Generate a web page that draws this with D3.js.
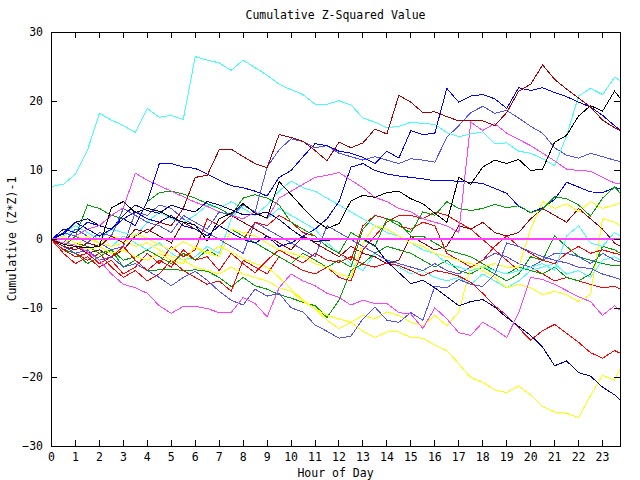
<!DOCTYPE html>
<html><head><meta charset="utf-8">
<script src="https://cdn.jsdelivr.net/npm/d3@7"></script>
<style>body{margin:0;background:#fff}svg{display:block}</style>
</head><body><svg id="c" width="640" height="480"></svg>
<script>
const hours = [0,0.5,1,1.5,2,2.5,3,3.5,4,4.5,5,5.5,6,6.5,7,7.5,8,8.5,9,9.5,10,10.5,11,11.5,12,12.5,13,13.5,14,14.5,15,15.5,16,16.5,17,17.5,18,18.5,19,19.5,20,20.5,21,21.5,22,22.5,23,23.5,23.75];
const xTickValues = [0,1,2,3,4,5,6,7,8,9,10,11,12,13,14,15,16,17,18,19,20,21,22,23];
const yTickValues = [-30,-20,-10,0,10,20,30];

const cyanTop = [7.7,8.0,9.5,12.9,18.3,17.3,16.5,15.5,19.0,17.7, 18.0,17.4,26.5,26.0,25.6,24.5,26.0,24.9,23.8,22.5, 21.7,21.0,19.6,19.6,20.1,19.5,17.6,17.0,16.2,16.4, 17.0,16.8,16.7,15.5,14.9,15.3,15.6,13.9,14.0,12.8, 12.5,11.7,10.7,15.0,20.8,21.9,21.0,23.5,23.0];
const darkRedTop = [0,-1,-1.5,-0.5,-1,0.5,-0.5,1.5,1,2.5, 2,4.5,9.0,9.3,13.0,13.1,12.0,11.0,10.4,15.2, 14.8,14.2,12.9,11.4,14.1,13.3,14.0,16.0,15.3,20.9, 19.9,18.4,18.5,17.8,17.2,17.2,17.2,16.5,18.4,21.5, 22.5,25.3,23.2,21.8,20.5,19.2,17.3,16.2,15.8];
const blueTop = [0,1.0,2.5,1.5,0.5,1.5,3.0,2.0,5.5,11.0, 11.0,10.5,10.3,9.5,8.6,7.8,7.5,7.0,6.3,9.0, 10.0,12.0,13.9,13.6,12.8,12.5,11.9,11.0,12.8,11.8, 15.8,15.2,15.4,21.9,19.9,20.8,21.0,20.4,19.0,22.0, 21.6,22.0,21.3,20.7,19.9,19.2,18.0,16.5,15.8];
const blackLine = [0,-0.7,-1.0,-1.2,-1.0,4.6,5.5,3.9,4.5,4.1, 3.2,2.5,2.1,-0.2,3.0,3.8,5.2,3.8,3.1,8.4, 6.5,4.6,2.8,1.6,2.3,5.6,6.4,6.1,6.8,7.0, 5.9,5.2,3.8,2.5,9.0,8.0,10.5,11.5,11.0,11.6, 10.0,10.2,14.1,15.1,17.9,19.4,18.6,21.5,20.4];
const magentaLow = [0,-0.5,-0.8,-1.8,-3.0,-5.0,-6.5,-7.0,-7.8,-9.6, -10.7,-9.7,-9.7,-10.0,-10.6,-10.6,-8.4,-9.3,-11.2,-7.0, -5.0,-6.0,-6.7,-7.8,-8.4,-9.5,-8.8,-9.3,-9.3,-10.6, -10.8,-12.9,-9.9,-11.5,-13.5,-13.9,-12.0,-13.0,-14.2,-10.6, -5.5,-5.8,-6.5,-7.4,-8.3,-9.0,-11.0,-9.6,-10.3];
const magentaHigh = [0,1.0,0.5,1.5,2.0,3.5,4.6,9.6,8.6,7.8, 7.0,6.2,5.4,4.8,4.0,3.5,3.0,4.0,3.0,6.0, 7.0,8.0,9.0,9.3,9.7,8.6,7.5,6.1,5.5,4.5, 4.0,3.0,2.5,2.0,1.0,17.0,15.8,16.8,15.4,14.5, 13.6,12.5,11.4,10.2,10.0,9.9,9.0,8.2,8.1];
const darkBlueLow = [0,0.8,2.5,3.0,2.0,1.5,3.5,5.0,4.2,3.8, 5.0,4.4,4.0,5.5,5.0,4.3,3.6,3.6,4.0,2.9, 1.5,0.3,-0.3,-0.1,0.0,0.0,0.1,-0.9,-3.2,-4.8, -6.4,-5.9,-7.0,-8.3,-9.6,-9.0,-8.7,-9.8,-11.3,-12.6, -13.9,-15.6,-18.3,-17.6,-19.3,-19.8,-21.4,-22.5,-23.3];
const redLow = [0,-1.5,-2.5,-2.0,-3.5,-2.5,-1.0,-3.0,-4.5,-3.0, -4.0,-1.5,-3.0,-2.5,-4.5,-2.0,-3.5,-4.8,-3.0,-1.5, -2.5,-3.4,-2.0,-3.0,-3.3,-2.5,-3.6,-4.0,-3.4,-3.8, -4.5,-5.3,-4.5,-4.8,-5.3,-6.2,-7.8,-9.6,-11.0,-12.8, -14.6,-13.2,-12.3,-13.6,-14.9,-16.4,-17.2,-16.1,-16.5];
const yellowLow = [0,-0.5,-1.0,0.5,-0.5,-1.0,-0.5,0.8,0.2,-0.8, -1.5,-0.3,-1.2,-2.0,-1.0,-1.8,-2.8,-3.5,-4.0,-5.5, -7.2,-8.8,-10.0,-11.7,-12.9,-12.0,-13.3,-14.2,-13.4,-13.4, -14.2,-14.3,-15.3,-16.1,-18.0,-20.0,-20.7,-21.8,-22.2,-21.2, -22.5,-24.2,-25.0,-25.2,-25.8,-22.6,-19.7,-20.4,-18.6];
const lightBlueLow = [0,-1.0,-2.0,-1.5,-3.0,-2.5,-4.0,-3.5,-4.5,-5.5, -6.7,-5.5,-4.6,-5.9,-7.5,-8.8,-9.5,-7.2,-8.2,-7.8, -9.9,-10.5,-12.4,-13.3,-14.3,-14.0,-11.5,-9.8,-11.7,-12.0, -10.6,-11.7,-6.8,-7.0,-5.8,-6.5,-6.8,-5.0,-0.5,-1.0, -1.8,-2.5,-3.0,-3.4,-4.0,-4.2,-5.0,-5.5,-5.8];
const greenA = [0,-1,0.5,5,4.5,3.5,3.0,2.0,5.5,6.8, 7.0,6.6,6.0,5.2,4.5,3.5,6.0,6.5,6.0,5.0, 2.5,1.5,0.5,-1.0,-2.0,1.0,0.0,-1.0,3.0,2.0, 1.0,4.0,3.5,5.5,4.5,4.2,4.5,5.1,4.6,4.9, 3.9,4.4,6.2,5.9,5.0,3.4,6.0,7.6,6.7];
const greenB = [0,-1.5,-2.0,-3.5,-2.5,-1.5,-4.0,-3.0,-4.5,-4.4, -4.3,-4.5,-4.4,-4.6,-5.5,-6.8,-5.5,-6.7,-7.2,-8.0, -8.5,-9.1,-9.6,-11.3,-8.8,-4.5,-3.5,-2.0,-1.0,-1.5, -2.0,-3.0,-4.0,-3.0,-4.5,-5.0,-4.0,-5.0,-6.0,-5.0, -2.5,-3.0,0.5,-1.0,-2.5,-3.0,-3.5,-3.8,-3.8];
const greenC = [0,0.5,-0.5,-1.0,-2.0,-1.5,-3.0,-2.5,-1.5,-2.5, -3.5,-2.0,-3.0,-1.5,-2.5,1.5,0.5,-0.5,-1.5,-2.5, -3.5,-2.0,-3.0,-4.0,-3.0,-4.0,1.5,3.5,3.0,2.5, 0.5,0.5,-0.5,-1.5,-2.0,-2.5,-3.5,-4.5,-5.0,-4.0, -4.5,-5.0,-4.0,-5.5,-6.0,-5.0,-1.0,-1.5,-2.0];
const blueMid = [0,1.5,1.0,2.5,2.0,1.5,3.0,4.0,3.0,2.5, 3.5,2.0,1.5,0.5,2.0,1.0,0.0,-0.5,0.5,-1.0, -0.5,0.5,1.5,3.0,5.5,10.5,11.0,10.0,9.5,9.2, 9.0,8.8,8.5,8.6,8.4,8.3,8.1,7.4,6.7,4.8, 3.9,4.6,5.8,8.3,7.6,6.9,6.8,7.5,7.4];
const redMid = [0,-2.0,-3.5,-2.5,-4.0,-3.0,-5.0,-4.0,-2.0,-3.5, -1.0,-2.5,-1.5,3.0,2.0,1.0,0.0,2.5,2.0,3.5, 2.5,1.0,0.5,-1.0,-2.0,-3.0,2.0,3.5,3.0,2.0, 1.5,2.5,2.0,-2.0,-3.0,-4.0,-3.0,-1.0,0.5,-1.0, -2.0,-3.0,-3.5,-2.0,-1.0,-2.0,-1.5,-2.0,-2.2];
const redC = [0,-1.0,-2.0,-3.0,-2.0,-4.0,-5.5,-4.5,-6.0,-5.0, -3.0,-4.5,-5.5,-6.5,-6.0,-7.5,-3.0,-4.0,-5.0,-2.5, -3.5,-4.5,-5.0,-4.0,-5.5,-6.0,-1.5,0.5,2.5,3.5, 3.5,3.0,4.0,3.5,2.5,1.5,0.0,-1.5,-3.0,-4.5, -4.0,-5.0,-6.0,-5.5,-6.0,-6.5,-7.0,-6.8,-7.2];
const darkRedMid = [0,-1.5,-1.0,-2.0,-1.5,-2.5,-1.5,0.5,1.5,0.5, -0.5,2.5,1.5,0.5,2.0,3.5,2.5,1.5,0.5,-0.5, -1.5,0.5,-0.5,-1.5,-2.5,-1.0,-2.0,-2.5,-3.5,-3.0, 0.5,-0.5,-1.5,-1.0,2.0,1.5,2.5,1.0,0.5,1.0, 3.0,4.5,3.5,2.5,4.5,3.0,1.5,-0.5,-1.0];
const cyanMid = [0,0.5,1.5,0.5,-0.5,-1.0,0.5,-0.5,-1.5,-0.5, -2.0,-3.0,-2.5,-1.0,-2.0,3.0,5.0,4.0,3.0,4.5, 3.5,2.5,1.5,-0.5,-2.0,-3.5,-4.5,-2.0,-3.0,-4.0, -5.0,-4.5,-5.5,-6.0,-5.5,-6.5,-5.0,-6.0,-7.0,-6.0, -4.5,-4.0,-3.5,-5.0,-4.5,-5.5,-3.0,-2.5,-3.0];
const cyanB = [0,1.0,2.0,1.0,0.0,1.5,1.0,0.5,2.5,4.0, 3.0,2.5,3.5,5.0,4.5,5.5,4.5,3.5,5.0,7.0, 8.5,7.5,7.0,6.0,5.0,4.0,3.0,2.0,1.0,0.5, -0.5,-1.5,-2.0,-3.5,-4.0,-4.5,-4.0,-4.5,-5.0,-4.5, -4.0,-3.5,-4.5,0.5,2.0,-0.5,-1.0,1.0,0.5];
const yellowHigh = [0,0.5,-0.5,-1.5,-1.0,-2.0,-1.5,-2.5,-3.0,-2.0, -3.0,-3.5,-1.0,-2.0,-2.5,1.5,1.0,0.5,-0.5,-1.5, -2.0,-2.5,-3.5,-4.0,-5.0,-5.5,-0.5,2.0,1.5,0.5, -0.5,-1.0,-2.0,-2.5,-3.0,-3.5,-4.0,-3.5,-4.0,-4.0, 1.5,5.5,4.5,5.2,4.0,5.5,4.5,5.0,5.3];
const yellowC = [0,-0.5,0.5,0.0,-0.5,0.5,0.0,-1.0,-0.5,-1.5, -2.5,-3.0,-4.0,-4.5,-5.0,-4.0,-5.0,-5.5,-6.0,-7.0, -7.5,-9.0,-10.0,-11.0,-11.5,-12.0,-11.0,-11.5,-10.5,-11.0, -12.0,-12.5,-11.0,-12.5,-10.5,-4.0,-4.5,-5.5,-7.0,-6.5, -7.0,-8.0,-7.5,-8.0,-9.0,-8.0,3.0,2.5,2.0];
const lightBlueHigh = [0,1.0,0.5,-0.5,1.0,0.5,4.5,3.5,2.5,2.0, 1.0,3.5,2.5,1.5,4.0,3.5,5.0,4.0,10.5,13.0, 14.6,14.2,13.3,13.6,12.5,12.0,11.5,12.0,11.5,11.0, 11.7,11.5,11.2,14.8,16.5,18.4,19.3,18.3,18.7,17.6, 16.4,15.4,13.3,12.2,11.8,12.5,12.0,11.5,11.3];
const lightBlueC = [0,-0.5,1.5,0.5,-0.5,-1.5,-1.0,4.0,3.5,5.0, 4.5,3.0,2.0,1.0,0.0,-1.0,-2.0,2.5,1.5,0.5, -0.5,-1.5,-2.5,2.0,1.0,0.0,-1.0,-2.0,-3.0,-3.5, -4.0,-4.5,-3.5,-4.5,-5.0,-4.0,-3.0,-2.0,-2.5,-3.5, -4.0,-3.0,-2.0,-2.0,-2.5,-3.5,-2.0,-3.0,-3.3];
const zeroLine = [0,0,0,0,0,0,0,0,0,0, 0,0,0,0,0,0,0,0,0,0, 0,0,0,0,0,0,0,0,0,0, 0,0,0,0,0,0,0,0,0,0, 0,0,0,0,0,0,0,0,0];

const seriesList = [
  {values: greenB, color: "#00a000"},
  {values: redC, color: "#ff0000"},
  {values: cyanMid, color: "#40ffff"},
  {values: lightBlueC, color: "#5050ff"},
  {values: yellowC, color: "#ffff00"},
  {values: darkRedMid, color: "#a00000"},
  {values: greenC, color: "#00a000"},
  {values: redMid, color: "#ff0000"},
  {values: cyanB, color: "#40ffff"},
  {values: yellowHigh, color: "#ffff00"},
  {values: blueMid, color: "#0000ff"},
  {values: greenA, color: "#00a000"},
  {values: lightBlueLow, color: "#5050ff"},
  {values: yellowLow, color: "#ffff00"},
  {values: redLow, color: "#ff0000"},
  {values: darkBlueLow, color: "#0000a0"},
  {values: magentaLow, color: "#ff40ff"},
  {values: magentaHigh, color: "#ff40ff"},
  {values: lightBlueHigh, color: "#5050ff"},
  {values: cyanTop, color: "#40ffff"},
  {values: blackLine, color: "#000000"},
  {values: blueTop, color: "#0000ff"},
  {values: darkRedTop, color: "#a00000"}
];

const W = 640, H = 480;
const L = 51, R = 620, T = 32, B = 446;
const svg = d3.select("#c");
const font = "'DejaVu Sans Mono', 'Liberation Mono', monospace";
svg.append("rect").attr("width", W).attr("height", H).attr("fill", "#fff");

const x = d3.scaleLinear().domain([0, 23.75]).range([L, R]);
const y = d3.scaleLinear().domain([-30, 30]).range([B, T]);

const line = d3.line().x((d, i) => x(hours[i])).y(d => y(d));
const plot = svg.append("g").attr("transform", "translate(0.5,0.5)");
plot.selectAll("path.series").data(seriesList).enter().append("path")
  .attr("class", "series")
  .attr("d", s => line(s.values))
  .attr("fill", "none")
  .attr("stroke", s => s.color)
  .attr("stroke-width", 1)
  .attr("shape-rendering", "crispEdges");

// flat series at zero, drawn last as pixel-aligned segments between consecutive samples (2px like the original)
svg.append("g").selectAll("rect.zero").data(zeroLine.slice(1)).enter().append("rect")
  .attr("class", "zero")
  .attr("x", (d, i) => x(hours[i]))
  .attr("width", (d, i) => x(hours[i + 1]) - x(hours[i]) + 0.5)
  .attr("y", (d, i) => Math.round(y(d)) - 1)
  .attr("height", 2)
  .attr("fill", "#ff40ff")
  .attr("shape-rendering", "crispEdges");

function styleAxis(g, showText) {
  g.select(".domain").remove();
  g.selectAll(".tick line").attr("stroke", "#000").attr("shape-rendering", "crispEdges");
  g.selectAll(".tick text").attr("fill", "#000").attr("font-family", font).attr("font-size", "11.5px");
  if (!showText) g.selectAll(".tick text").remove();
}
svg.append("g").attr("transform", `translate(0,${B})`)
  .call(d3.axisBottom(x).tickValues(xTickValues).tickFormat(d3.format("d")).tickSize(-6).tickPadding(7))
  .call(g => styleAxis(g, true));
svg.append("g").attr("transform", `translate(0,${T})`)
  .call(d3.axisTop(x).tickValues(xTickValues).tickSize(-6))
  .call(g => styleAxis(g, false));
svg.append("g").attr("transform", `translate(${L},0)`)
  .call(d3.axisLeft(y).tickValues(yTickValues).tickFormat(d3.format("d")).tickSize(-6).tickPadding(8))
  .call(g => styleAxis(g, true));
svg.append("g").attr("transform", `translate(${R},0)`)
  .call(d3.axisRight(y).tickValues(yTickValues).tickSize(-6))
  .call(g => styleAxis(g, false));

svg.append("rect").attr("x", L + 0.5).attr("y", T + 0.5).attr("width", R - L).attr("height", B - T)
  .attr("fill", "none").attr("stroke", "#000").attr("stroke-width", 1).attr("shape-rendering", "crispEdges");

svg.append("text").attr("x", (L + R) / 2).attr("y", 19).attr("text-anchor", "middle")
  .attr("font-family", font).attr("font-size", "11.5px").text("Cumulative Z-Squared Value");
svg.append("text").attr("x", (L + R) / 2).attr("y", 477).attr("text-anchor", "middle")
  .attr("font-family", font).attr("font-size", "11.5px").text("Hour of Day");
svg.append("text").attr("transform", `translate(16,${(T + B) / 2}) rotate(-90)`).attr("text-anchor", "middle")
  .attr("font-family", font).attr("font-size", "11.5px").text("Cumulative (Z*Z)-1");
</script></body></html>
